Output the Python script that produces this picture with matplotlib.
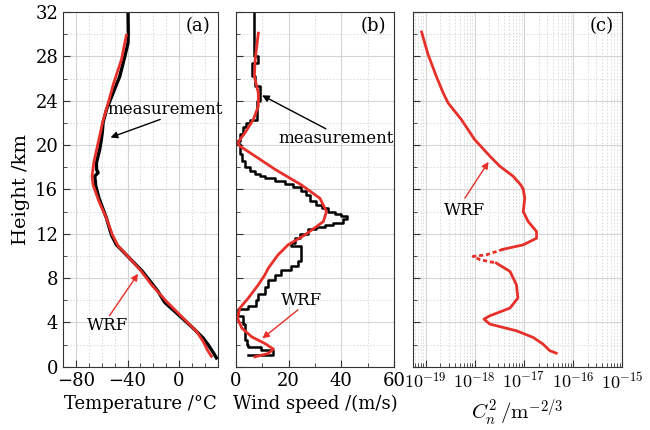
import numpy as np
import matplotlib.pyplot as plt
from matplotlib.ticker import MultipleLocator, NullFormatter

plt.rcParams["font.family"] = ["DejaVu Serif"]
plt.rcParams["mathtext.fontset"] = "cm"

# (a) temperature profile, radiosonde measurement
temp_meas_h = [32.0, 30.1, 29.2, 28.0, 26.2, 24.7, 23.2, 22.0, 21.2, 20.5, 19.6, 18.4,
               17.8, 17.5, 17.2, 16.3, 15.2, 13.4, 11.9, 11.0, 10.7, 8.6, 6.8, 5.8, 5.0,
               3.5, 2.6, 2.0, 1.4, 0.8]
temp_meas = [-39.6, -39.4, -39.6, -42.1, -46.0, -51.2, -56.3, -59.0, -59.5, -60.3, -61.6,
             -64.1, -64.0, -62.8, -65.4, -64.6, -62.1, -56.3, -52.5, -48.6, -46.0, -28.4,
             -16.3, -11.1, -3.4, 10.8, 18.6, 22.5, 25.9, 29.0]
# (a) temperature profile, WRF
temp_wrf_h = [29.9, 27.7, 25.6, 23.8, 22.0, 20.2, 18.4, 17.2, 16.4, 14.9, 13.4, 11.9,
              10.9, 10.1, 8.6, 7.4, 5.9, 4.4, 3.2, 2.3, 1.4, 0.95]
temp_wrf = [-40.9, -44.7, -50.7, -55.0, -59.4, -62.8, -66.2, -67.5, -66.7, -62.1, -56.3,
            -51.7, -47.3, -40.8, -29.2, -21.4, -9.8, 3.1, 13.5, 18.6, 22.5, 25.1]

# (b) wind speed, measurement (stepped profile)
wind_meas_h = [32.0, 28.0, 27.4, 26.2, 25.3, 24.0, 22.3, 22.0, 21.6, 21.0, 20.4, 20.1,
               19.2, 18.6, 18.0, 17.7, 17.4, 17.25, 17.0, 16.8, 16.5, 16.2, 15.9, 15.5,
               15.0, 14.6, 14.3, 14.0, 13.8, 13.6, 13.3, 13.0, 12.8, 12.6, 12.4, 12.0,
               11.6, 11.2, 10.9, 10.0, 9.55, 9.1, 8.7, 8.25, 7.8, 7.2, 6.6, 6.0, 5.5,
               5.2, 4.6, 3.9, 3.0, 2.4, 1.95, 1.75, 1.5, 1.3, 1.05]
wind_meas = [7.0, 8.5, 6.0, 7.3, 9.1, 8.0, 5.5, 4.0, 2.8, 1.6, 0.3, 1.6, 2.2, 3.5, 5.4,
             7.3, 9.0, 11.0, 15.0, 18.6, 21.5, 24.9, 26.5, 28.1, 30.5, 32.5, 35.0, 37.6,
             40.0, 42.0, 40.8, 37.0, 33.8, 30.5, 27.3, 24.5, 22.4, 21.1, 24.9, 24.9, 23.6,
             21.1, 17.3, 14.8, 12.3, 11.0, 8.5, 7.8, 4.7, 0.9, 2.8, 3.5, 3.5, 4.1, 4.7,
             9.7, 14.2, 14.2, 4.7]
# (b) wind speed, WRF
wind_wrf_h = [30.1, 27.7, 26.2, 24.7, 23.5, 22.3, 21.1, 20.2, 19.9, 19.0, 17.8, 16.4,
              15.2, 14.0, 13.1, 11.9, 11.0, 10.1, 8.9, 8.3, 7.4, 6.2, 5.3, 4.4, 3.5, 2.7,
              2.1, 1.6, 1.2, 0.9]
wind_wrf = [8.5, 7.3, 7.0, 8.5, 8.5, 6.6, 3.4, 0.6, 1.5, 7.3, 14.9, 24.9, 31.9, 34.4,
            33.2, 26.2, 19.8, 16.0, 12.3, 11.0, 8.5, 4.7, 1.5, 0.6, 2.2, 6.0, 11.0, 14.2,
            12.3, 7.2]

# (c) Cn2 from WRF, given as log10 values
cn2_h = [30.2, 28.2, 26.2, 24.7, 23.8, 22.3, 20.5, 19.0, 18.1, 17.2, 16.4, 16.0, 15.2,
         14.0, 13.1, 12.2, 11.6, 11.0, 10.6, 10.1, 9.96, 9.66, 9.36, 8.6, 7.4, 6.2, 5.3,
         4.6, 4.3, 3.85, 3.25, 2.65, 2.05, 1.45, 1.23]
cn2_log = [-19.08, -18.95, -18.78, -18.64, -18.54, -18.27, -18.0, -17.69, -17.49, -17.22,
           -17.06, -17.01, -16.98, -17.01, -16.91, -16.74, -16.74, -17.01, -17.42, -17.76,
           -18.03, -17.89, -17.56, -17.28, -17.15, -17.12, -17.28, -17.69, -17.81, -17.69,
           -17.15, -16.81, -16.61, -16.47, -16.34]

temp_ticks = [-80, -40, 0]
wind_ticks = [0, 20, 40, 60]
cn2_decades = [-19, -18, -17, -16, -15]

RED = "#e8302a"
FS = 13


def style_axis(ax):
    ax.set_ylim(0, 32)
    ax.yaxis.set_major_locator(MultipleLocator(4))
    ax.yaxis.set_minor_locator(MultipleLocator(2))
    ax.grid(True, which="major", color="#d4d4d4", linewidth=0.8)
    ax.grid(True, which="minor", color="#d8d8d8", linestyle=(0, (2, 2)), linewidth=0.6)
    ax.tick_params(which="both", direction="in", labelsize=FS, color="#333333")
    ax.tick_params(which="major", length=5)
    ax.tick_params(which="minor", length=3)
    for s in ax.spines.values():
        s.set_color("#333333")
    ax.set_axisbelow(True)


def arrow(ax, tip, tail, color):
    ax.annotate("", xy=tip, xytext=tail,
                arrowprops=dict(arrowstyle="-|>", color=color, lw=1.0, mutation_scale=10))


fig = plt.figure(figsize=(6.5, 4.3), dpi=100)
ax_a = fig.add_axes([0.097, 0.147, 0.238, 0.825])
ax_b = fig.add_axes([0.363, 0.147, 0.243, 0.825])
ax_c = fig.add_axes([0.635, 0.147, 0.322, 0.825])

# panel (a)
style_axis(ax_a)
ax_a.plot(temp_meas, temp_meas_h, color="black", linewidth=2.4)
ax_a.plot(temp_wrf, temp_wrf_h, color=RED, linewidth=2.0)
ax_a.set_xticks(temp_ticks)
ax_a.set_xticks(np.arange(-90, 31, 10), minor=True)
ax_a.set_xlim(-90, 30)
ax_a.set_xlabel("Temperature /°C", fontsize=13)
ax_a.set_ylabel("Height /km", fontsize=14)
ax_a.text(0.95, 0.985, "(a)", transform=ax_a.transAxes, ha="right", va="top", fontsize=FS)
arrow(ax_a, (-55.2, 20.6), (-12.6, 22.4), "black")
ax_a.text(-55.5, 23.2, "measurement", fontsize=12, va="center", ha="left")
arrow(ax_a, (-30.6, 8.6), (-55.2, 4.4), RED)
ax_a.text(-55.2, 3.7, "WRF", fontsize=12, va="center", ha="center")

# panel (b)
style_axis(ax_b)
ax_b.step(wind_meas, wind_meas_h, where="pre", color="black", linewidth=1.8)
ax_b.plot(wind_wrf, wind_wrf_h, color=RED, linewidth=2.0)
ax_b.set_xticks(wind_ticks)
ax_b.set_xticks(np.arange(0, 61, 10), minor=True)
ax_b.set_xlim(0, 60)
ax_b.tick_params(axis="y", labelleft=False)
ax_b.set_xlabel("Wind speed /(m/s)", fontsize=13)
ax_b.text(0.95, 0.985, "(b)", transform=ax_b.transAxes, ha="right", va="top", fontsize=FS)
arrow(ax_b, (9.0, 24.6), (35.1, 21.35), "black")
ax_b.text(16.2, 20.6, "measurement", fontsize=12, va="center", ha="left")
arrow(ax_b, (9.2, 2.4), (24.4, 5.3), RED)
ax_b.text(25.0, 6.0, "WRF", fontsize=12, va="center", ha="center")

# panel (c): the 10.6-9.4 km stretch is drawn dotted as in the source figure
style_axis(ax_c)
ax_c.set_xscale("log")
cn2 = 10.0 ** np.array(cn2_log)
h = np.array(cn2_h)
ax_c.plot(cn2[:19], h[:19], color=RED, linewidth=2.0)
ax_c.plot(cn2[18:23], h[18:23], color=RED, linewidth=2.0, linestyle=(0, (1.5, 1)))
ax_c.plot(cn2[22:], h[22:], color=RED, linewidth=2.0)
major = [10.0 ** d for d in cn2_decades]
minor = [m * 10.0 ** d for d in [-20] + cn2_decades[:-1] for m in range(2, 10)]
minor = [v for v in minor if 5.5e-20 <= v <= 1e-15]
ax_c.set_xticks(major)
ax_c.set_xticklabels([rf"$10^{{{d}}}$" for d in cn2_decades])
ax_c.set_xticks(minor, minor=True)
ax_c.xaxis.set_minor_formatter(NullFormatter())
ax_c.set_xlim(5.5e-20, 1e-15)
ax_c.tick_params(axis="y", labelleft=False)
ax_c.tick_params(axis="x", labelsize=13)
ax_c.set_xlabel(r"$C_n^2\,/\mathrm{m}^{-2/3}$", fontsize=15)
ax_c.text(0.96, 0.985, "(c)", transform=ax_c.transAxes, ha="right", va="top", fontsize=FS)
arrow(ax_c, (2.06e-18, 18.7), (5.9e-19, 15.0), RED)
ax_c.text(6.3e-19, 14.1, "WRF", fontsize=12, va="center", ha="center")

fig.savefig("out.png", dpi=100)
